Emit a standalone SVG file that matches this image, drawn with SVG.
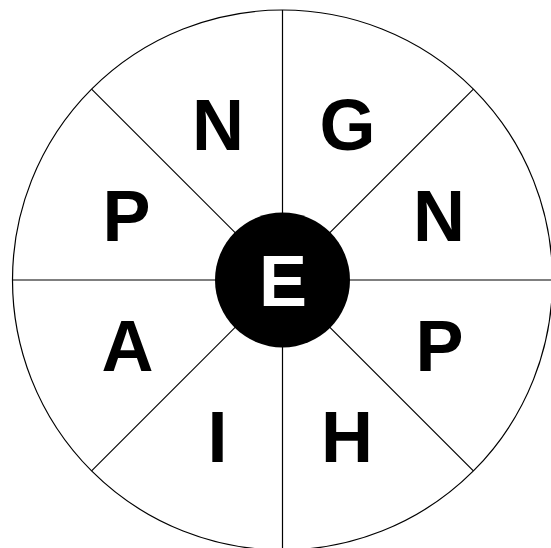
<svg xmlns="http://www.w3.org/2000/svg" width="551" height="548" viewBox="0 0 551 548">
<style>
.ln{stroke:#000;stroke-width:1.2;fill:none}
.lbl{font-family:"Liberation Sans",Arial,sans-serif;font-weight:bold;font-size:72px;text-anchor:middle;fill:#000}
</style>
<rect width="551" height="548" fill="#fff"/>
<g id="outer"><circle cx="282.5" cy="280" r="270" class="ln"/></g>
<g id="connectors">
<line class="ln" x1="282.5" y1="10" x2="282.5" y2="550"/>
<line class="ln" x1="12.5" y1="280" x2="552.5" y2="280"/>
<line class="ln" x1="91.6" y1="89.1" x2="473.4" y2="470.9"/>
<line class="ln" x1="473.4" y1="89.1" x2="91.6" y2="470.9"/>
</g>
<g id="center"><circle cx="282.5" cy="280" r="67.5" fill="#000"/><text class="lbl" x="283" y="306" fill="#fff" style="fill:#fff">E</text></g>
<g id="n-top"><text class="lbl" x="218" y="150">N</text></g>
<g id="g-top"><text class="lbl" x="347.5" y="150">G</text></g>
<g id="p-left"><text class="lbl" x="126.5" y="241">P</text></g>
<g id="n-right"><text class="lbl" x="439" y="241">N</text></g>
<g id="a-left"><text class="lbl" x="127.5" y="371">A</text></g>
<g id="p-right"><text class="lbl" x="439.5" y="371">P</text></g>
<g id="i-bottom"><text class="lbl" x="217.5" y="462">I</text></g>
<g id="h-bottom"><text class="lbl" x="347" y="462">H</text></g>
</svg>
